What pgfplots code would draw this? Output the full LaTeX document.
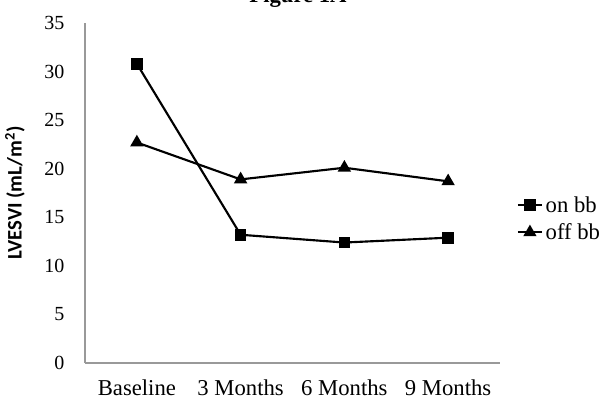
\documentclass[border=0pt]{standalone}
\usepackage{pgfplots}
\pgfplotsset{compat=1.18}
\usepackage{fontspec}
\setmainfont{Liberation Serif}
\newfontfamily\calib{Carlito}
\begin{document}
\begin{tikzpicture}[x=1pt,y=1pt]
\useasboundingbox (-63.75,-34.5) rectangle (388.5,272.25);
\node[font=\fontsize{17}{20}\selectfont\bfseries, anchor=base] at (159.75,270) {Figure 1A};
\begin{axis}[
  at={(0,0)}, anchor=south west,
  scale only axis, width=311.25pt, height=255pt,
  axis lines*=left,
  axis line style={draw=gray!80, line width=0.9pt},
  xmin=-0.5, xmax=3.5, ymin=0, ymax=35,
  xtick={0,1,2,3},
  xticklabels={Baseline,3 Months,6 Months,9 Months},
  ytick={0,5,...,35},
  major tick length=0pt,
  /pgf/number format/assume math mode=true,
  yticklabel style={font=\fontsize{15}{17}\selectfont, anchor=east, xshift=-12pt},
  xticklabel style={font=\fontsize{17}{19}\selectfont, anchor=north, yshift=-9pt},
  ylabel={\calib\bfseries LVESVI (mL/m\textsuperscript{2})},
  ylabel style={font=\fontsize{15.5}{18}\selectfont, at={(axis description cs:-0.169,0.5)}, anchor=center},
  legend style={draw=none, fill=none, at={(rel axis cs:1.04,0.424)}, anchor=west,
    font=\fontsize{17}{19}\selectfont, row sep=3pt, inner sep=0pt},
  legend cell align=left,
  legend image code/.code={\draw[#1, line width=1.6pt] (0pt,0pt) -- (18pt,0pt); \draw[#1, only marks] plot coordinates {(9pt,0pt)};},
]
\addplot[black, line width=1.6pt, mark=square*, mark size=3.6pt, mark options={solid}] coordinates {
  (0,30.8) (1,13.2) (2,12.4) (3,12.9)
};
\addlegendentry{on bb}
\addplot[black, line width=1.6pt, mark=triangle*, mark size=4.2pt, mark options={solid}] coordinates {
  (0,22.7) (1,18.9) (2,20.1) (3,18.7)
};
\addlegendentry{off bb}
\end{axis}
\end{tikzpicture}
\end{document}
